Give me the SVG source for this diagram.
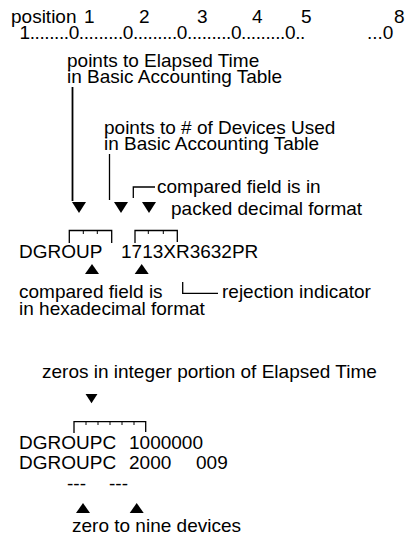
<svg xmlns="http://www.w3.org/2000/svg" width="412" height="540" viewBox="0 0 412 540">
  <style>
    text { font-family: "Liberation Sans", Arial, sans-serif; font-size: 19px; fill: #000; }
    .ruler { letter-spacing: -0.4px; }
    .ln { stroke: #000; stroke-width: 1.3; fill: none; }
    .lnb { stroke: #000; stroke-width: 1.8; fill: none; }
    .tick { stroke: #000; stroke-width: 1; fill: none; }
    .tri { fill: #000; stroke: none; }
  </style>
  <defs>
    <path id="down" d="M -7 0 L 7 0 L 0 11 Z"/>
    <path id="up" d="M -7 10 L 7 10 L 0 0 Z"/>
  </defs>

  <rect width="412" height="540" fill="#fff"/>

  <!-- column ruler -->
  <g id="ruler">
    <text x="11" y="23">position</text>
    <text x="84" y="23">1</text>
    <text x="139" y="23">2</text>
    <text x="197" y="23">3</text>
    <text x="252" y="23">4</text>
    <text x="301" y="23">5</text>
    <text x="394" y="23">8</text>
    <text class="ruler" x="19.5" y="39">1........0.........0.........0.........0.........0..</text>
    <text x="367" y="39">...0</text>
  </g>

  <g id="note-elapsed">
    <text x="67" y="67">points to Elapsed Time</text>
    <text x="67" y="83">in Basic Accounting Table</text>
  </g>

  <g id="note-devices">
    <text x="104" y="134">points to # of Devices Used</text>
    <text x="104" y="150">in Basic Accounting Table</text>
  </g>

  <g id="note-packed">
    <text x="157" y="193">compared field is in</text>
    <text x="171" y="215">packed decimal format</text>
  </g>

  <g id="record-1">
    <text x="19" y="258">DGROUP</text>
    <text x="121" y="258">1713XR3632PR</text>
  </g>

  <g id="note-hex">
    <text x="19" y="298">compared field is</text>
    <text x="19" y="315">in hexadecimal format</text>
  </g>

  <g id="note-rejection">
    <text x="222" y="298">rejection indicator</text>
  </g>

  <g id="note-zeros">
    <text x="42" y="378">zeros in integer portion of Elapsed Time</text>
  </g>

  <g id="record-2">
    <text x="19" y="449">DGROUPC</text>
    <text x="129" y="449">1000000</text>
    <text x="19" y="469">DGROUPC</text>
    <text x="129" y="469">2000</text>
    <text x="196" y="469">009</text>
  </g>

  <g id="dashes">
    <text x="67" y="490">---</text>
    <text x="109" y="490">---</text>
  </g>

  <g id="note-nine">
    <text x="72" y="532">zero to nine devices</text>
  </g>

  <g id="connectors">
    <!-- pointer lines -->
    <line class="lnb" x1="72.5" y1="87" x2="72.5" y2="201"/>
    <line class="ln" x1="109.5" y1="154" x2="109.5" y2="200"/>
    <polyline class="ln" points="133.3,198 133.3,187 155,187"/>
    <polyline class="ln" points="182.7,282 182.7,293.3 218,293.3"/>

    <!-- field brackets, record 1 -->
    <polyline class="ln" points="69.3,243 69.3,230.5 111.7,230.5 111.7,243"/>
    <line class="tick" x1="83.3" y1="230.5" x2="83.3" y2="234"/>
    <line class="tick" x1="97.3" y1="230.5" x2="97.3" y2="234"/>
    <polyline class="ln" points="135,243 135,230.5 177.3,230.5 177.3,242"/>
    <line class="tick" x1="148.3" y1="230.5" x2="148.3" y2="234"/>
    <line class="tick" x1="163.3" y1="230.5" x2="163.3" y2="234"/>

    <!-- field bracket, record 2 -->
    <polyline class="ln" points="74,433 74,421.7 145.7,421.7 145.7,432"/>
    <line class="tick" x1="86" y1="421.7" x2="86" y2="425"/>
    <line class="tick" x1="98" y1="421.7" x2="98" y2="425"/>
    <line class="tick" x1="110" y1="421.7" x2="110" y2="425"/>
    <line class="tick" x1="122" y1="421.7" x2="122" y2="425"/>
    <line class="tick" x1="134" y1="421.7" x2="134" y2="425"/>

    <!-- arrowheads -->
    <use href="#down" class="tri" x="79" y="202"/>
    <use href="#down" class="tri" x="121" y="202"/>
    <use href="#down" class="tri" x="149" y="202"/>
    <use href="#up" class="tri" x="92" y="264"/>
    <use href="#up" class="tri" x="141.7" y="264"/>
    <use href="#down" class="tri" transform="translate(91.5 394) scale(0.85)"/>
    <use href="#up" class="tri" x="83" y="503"/>
    <use href="#up" class="tri" x="136.7" y="503"/>
  </g>
</svg>
